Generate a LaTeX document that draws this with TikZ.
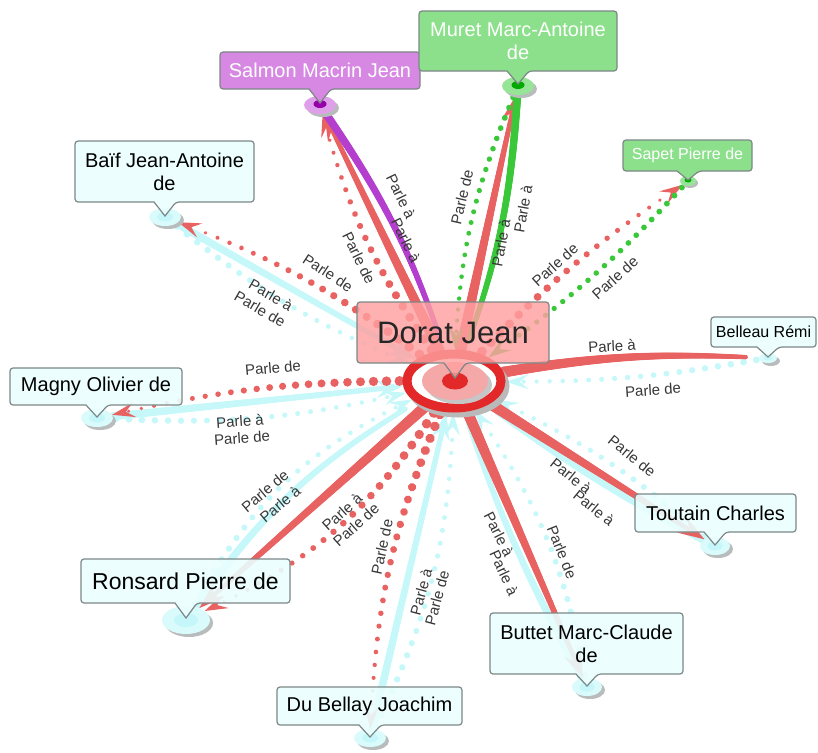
\documentclass[tikz,border=0pt]{standalone}
\usepackage{fontspec}
\setmainfont{Liberation Sans}
\usetikzlibrary{shapes.geometric,decorations.markings,arrows.meta,calc}

\definecolor{cR}{RGB}{233,98,98}
\definecolor{cRing}{RGB}{226,40,40}
\definecolor{cC}{RGB}{198,248,250}
\definecolor{cG}{RGB}{58,200,58}
\definecolor{cP}{RGB}{180,62,205}
\definecolor{cBox}{RGB}{234,254,254}
\definecolor{cBord}{RGB}{125,135,135}
\definecolor{cPbox}{RGB}{214,136,226}
\definecolor{cGbox}{RGB}{140,224,140}
\definecolor{cDbox}{RGB}{255,160,160}
\definecolor{cLbl}{RGB}{55,55,55}
\definecolor{cAnC}{RGB}{218,251,252}
\definecolor{cAnCin}{RGB}{196,246,250}
\definecolor{cShadow}{RGB}{185,188,188}
\definecolor{cAnP}{RGB}{222,160,232}
\definecolor{cAnPin}{RGB}{150,0,170}
\definecolor{cAnG}{RGB}{150,228,150}
\definecolor{cAnGin}{RGB}{0,170,0}
\definecolor{cPinkIn}{RGB}{244,168,168}

\newcommand\mkcallout[7]{%
  \draw[cBord, line width=1.2pt, #7, rounded corners=3pt]
    (#1,#2) -- (#3,#2) -- (#3,#4) -- ({#5+11},#4) [sharp corners] -- (#5,#6)
    -- ({#5-11},#4) [rounded corners=3pt] -- (#1,#4) -- cycle;}

\tikzset{
  tsolid/.style n args={3}{
    decoration={markings,
      mark=between positions 0 and -14pt step 1pt with {%
        \pgfmathsetmacro\myr{0.5*(#2+(#3-#2)*(\pgfkeysvalueof{/pgf/decoration/mark info/distance from start})/\pgfdecoratedpathlength)}%
        \fill[#1] (0,0) circle[radius=\myr pt];},
      mark=at position -0.3pt with {\fill[#1] (0,0) -- (-27,9) -- (-17,0) -- (-27,-9) -- cycle;}},
    postaction=decorate},
  tdots/.style n args={4}{
    decoration={markings,
      mark=between positions 3pt and -17pt step #4pt with {%
        \pgfmathsetmacro\myr{0.5*(#2+(#3-#2)*(\pgfkeysvalueof{/pgf/decoration/mark info/distance from start})/\pgfdecoratedpathlength)}%
        \fill[#1] (0,0) circle[radius=\myr pt];},
      mark=at position -0.3pt with {\fill[#1] (0,0) -- (-23,7.5) -- (-14,0) -- (-23,-7.5) -- cycle;}},
    postaction=decorate}
}

\begin{document}
\begin{tikzpicture}[x=1pt,y=-1pt,
  anch/.style={ellipse, inner sep=0pt, outer sep=0pt},
  lbl/.style={font=\fontsize{15}{17}\selectfont, text=cLbl, inner sep=0pt},
  txt/.style={font=\fontsize{20}{23}\selectfont, align=center, inner sep=0pt},
  boxC/.style={fill=cBox, fill opacity=0.9},
  boxP/.style={fill=cPbox},
  boxG/.style={fill=cGbox},
  boxD/.style={fill=cDbox, fill opacity=0.82}]
\useasboundingbox (0,0) rectangle (818,752);

% invisible hub and anchor nodes
\node[anch, minimum width=103pt, minimum height=63pt] (ring) at (454,381) {};
\node[anch, minimum width=32pt, minimum height=18pt] (salA) at (320,105) {};
\node[anch, minimum width=32pt, minimum height=18pt] (murA) at (518,86) {};
\node[anch, minimum width=16pt, minimum height=10pt] (sapA) at (688,181) {};
\node[anch, minimum width=18pt, minimum height=10pt] (belA) at (768,358) {};
\node[anch, minimum width=30pt, minimum height=18pt] (touA) at (715,546) {};
\node[anch, minimum width=30pt, minimum height=18pt] (butA) at (587,687) {};
\node[anch, minimum width=32pt, minimum height=18pt] (dubA) at (370,738) {};
\node[anch, minimum width=48pt, minimum height=28pt] (ronA) at (186,620) {};
\node[anch, minimum width=32pt, minimum height=18pt] (magA) at (97,418) {};
\node[anch, minimum width=32pt, minimum height=18pt] (baiA) at (165,217) {};

% cyan edges
\path[tsolid={cC}{8}{5}] (touA) to[bend left=4] (ring);
\path[tdots={cC}{7}{4}{13}] (touA) to[bend right=8] (ring);
\path[tsolid={cC}{8}{5}] (butA) to[bend left=5] (ring);
\path[tdots={cC}{7}{4}{13}] (butA) to[bend right=12] (ring);
\path[tsolid={cC}{8}{5}] (dubA) to (ring);
\path[tdots={cC}{7}{4}{13}] (dubA) to[bend right=12] (ring);
\path[tsolid={cC}{8}{5}] (ronA) to[bend left=12] (ring);
\path[tdots={cC}{7}{4}{13}] (ronA) to[bend left=18] (ring);
\path[tsolid={cC}{8}{5}] (magA) to (ring);
\path[tdots={cC}{7}{4}{13}] (magA) to[bend right=8] (ring);
\path[tsolid={cC}{8}{5}] (baiA) to (ring);
\path[tdots={cC}{7}{4}{13}] (baiA) to[bend right=8] (ring);
\path[tdots={cC}{7}{4}{13}] (belA) to[bend left=5] (ring);

% red edges
\path[tsolid={cR}{11}{4}] (ring) to (salA);
\path[tdots={cR}{10}{3}{13}] (ring) to[bend left=10] (salA);
\path[tsolid={cR}{11}{4}] (ring) to (murA);
\path[tdots={cR}{10}{3}{13}] (ring) to[bend left=6] (sapA);
\path[tsolid={cR}{11}{4}] (ring) to[bend left=6] (belA);
\path[tsolid={cR}{11}{4}] (ring) to (touA);
\path[tsolid={cR}{11}{4}] (ring) to (butA);
\path[tdots={cR}{10}{3}{13}] (ring) to[bend right=10] (dubA);
\path[tsolid={cR}{11}{4}] (ring) to (ronA);
\path[tdots={cR}{10}{3}{13}] (ring) to[bend left=16] (ronA);
\path[tdots={cR}{10}{3}{13}] (ring) to[bend right=6] (magA);
\path[tdots={cR}{10}{3}{13}] (ring) to[bend right=8] (baiA);

% green and purple edges
\path[tsolid={cG}{8}{5}] (murA) to[bend left=8] (ring);
\path[tdots={cG}{6}{4}{11}] (murA) to[bend right=10] (ring);
\path[tdots={cG}{6}{5}{11}] (sapA) to[bend left=6] (ring);
\path[tsolid={cP}{8}{5}] (salA) to[bend left=8] (ring);

% anchor markers
\foreach \ax/\ay/\rx/\ry in {165/217/16/9, 97/418/16/9, 186/620/24/14, 370/738/16/9, 587/687/15/9, 715/546/15/9, 768/358/9/5}{
  \fill[cShadow] (\ax+3,\ay+3) ellipse [x radius=\rx pt, y radius=\ry pt];
  \fill[cAnC] (\ax,\ay) ellipse [x radius=\rx pt, y radius=\ry pt];
  \fill[cAnCin] (\ax,\ay) ellipse [x radius=0.5*\rx pt, y radius=0.5*\ry pt];
}
\fill[cShadow] (323,108) ellipse [x radius=16pt, y radius=9pt];
\fill[cAnP] (320,105) ellipse [x radius=16pt, y radius=9pt];
\fill[cAnPin] (320,104) ellipse [x radius=6.5pt, y radius=4pt];
\fill[cShadow] (521,89) ellipse [x radius=16pt, y radius=9pt];
\fill[cAnG] (518,86) ellipse [x radius=16pt, y radius=9pt];
\fill[cAnGin] (518,85) ellipse [x radius=6.5pt, y radius=4pt];
\fill[cShadow] (690,183) ellipse [x radius=8pt, y radius=5pt];
\fill[cAnG] (688,181) ellipse [x radius=8pt, y radius=5pt];
\fill[cAnGin] (688,180) ellipse [x radius=3.5pt, y radius=2.5pt];

% hub
\draw[line width=9pt, gray!55] (458,386) ellipse [x radius=47pt, y radius=27pt];
\draw[line width=9pt, cRing, fill=white] (454,381) ellipse [x radius=47pt, y radius=27pt];
\fill[gray!45] (459,385) ellipse [x radius=33pt, y radius=19pt];
\fill[cPinkIn] (455,381) ellipse [x radius=33pt, y radius=19pt];
\fill[cRing] (455,381) ellipse [x radius=13pt, y radius=8.5pt];

% callouts
\mkcallout{220}{52}{420}{89}{320}{103}{boxP}
\node[txt, text=white] (salT) at (320,70.5) {Salmon Macrin Jean};
\mkcallout{419}{11}{617}{71}{518}{84}{boxG}
\node[txt, text=white] (murT) at (518,41) {Muret Marc-Antoine\\de};
\mkcallout{623}{140}{752}{171}{688}{180}{boxG}
\node[txt, text=white, font=\fontsize{16}{19}\selectfont] (sapT) at (687.5,155.5) {Sapet Pierre de};
\mkcallout{711}{317}{816}{347}{768}{357}{boxC}
\node[txt, font=\fontsize{16}{19}\selectfont] (belT) at (763.5,332) {Belleau Rémi};
\mkcallout{635}{494}{796}{532}{715}{545}{boxC}
\node[txt] (touT) at (715.5,513) {Toutain Charles};
\mkcallout{490}{613}{683}{674}{587}{686}{boxC}
\node[txt] (butT) at (586.5,643.5) {Buttet Marc-Claude\\de};
\mkcallout{277}{687}{462}{725}{370}{737}{boxC}
\node[txt] (dubT) at (369.5,706) {Du Bellay Joachim};
\mkcallout{81}{559}{290}{603}{186}{618}{boxC}
\node[txt, font=\fontsize{23}{26}\selectfont] (ronT) at (185.5,581) {Ronsard Pierre de};
\mkcallout{10}{368}{182}{405}{97}{417}{boxC}
\node[txt] (magT) at (96,386.5) {Magny Olivier de};
\mkcallout{75}{141}{254}{202}{165}{216}{boxC}
\node[txt] (baiT) at (164.5,171.5) {Baïf Jean-Antoine\\de};
\mkcallout{357}{302}{549}{363}{455}{378}{boxD}
\node[txt, font=\fontsize{31}{34}\selectfont, text=black!85] (dorT) at (453,332.5) {Dorat Jean};

% edge labels
\node[lbl, rotate=-64] (l1) at (401,196) {Parle à};
\node[lbl, rotate=-64] (l2) at (406,240) {Parle à};
\node[lbl, rotate=-64] (l3) at (359,258) {Parle de};
\node[lbl, rotate=77] (l4) at (462,197) {Parle de};
\node[lbl, rotate=80] (l5) at (501,243) {Parle à};
\node[lbl, rotate=80] (l6) at (523,209) {Parle à};
\node[lbl, rotate=42] (l7) at (555,265) {Parle de};
\node[lbl, rotate=42] (l8) at (615,278) {Parle de};
\node[lbl, rotate=3] (l9) at (612,346) {Parle à};
\node[lbl, rotate=4] (l10) at (653,390) {Parle de};
\node[lbl, rotate=-39] (l11) at (632,456) {Parle de};
\node[lbl, rotate=-39] (l12) at (571,476) {Parle à};
\node[lbl, rotate=-39] (l13) at (594,508) {Parle à};
\node[lbl, rotate=-63] (l14) at (499,534) {Parle à};
\node[lbl, rotate=-65] (l15) at (504,573) {Parle à};
\node[lbl, rotate=-68] (l16) at (562,552) {Parle de};
\node[lbl, rotate=78] (l17) at (382,547) {Parle de};
\node[lbl, rotate=75] (l18) at (421,592) {Parle à};
\node[lbl, rotate=75] (l19) at (437,598) {Parle de};
\node[lbl, rotate=40] (l20) at (265,491) {Parle de};
\node[lbl, rotate=40] (l21) at (280,504) {Parle à};
\node[lbl, rotate=42] (l22) at (342,512) {Parle à};
\node[lbl, rotate=42] (l23) at (356,525) {Parle de};
\node[lbl, rotate=5] (l24) at (273,368) {Parle de};
\node[lbl, rotate=4] (l25) at (240,421) {Parle à};
\node[lbl, rotate=4] (l26) at (242,438) {Parle de};
\node[lbl, rotate=-33] (l27) at (328,273) {Parle de};
\node[lbl, rotate=-30] (l28) at (271,295) {Parle à};
\node[lbl, rotate=-30] (l29) at (260,309) {Parle de};
\end{tikzpicture}
\end{document}
